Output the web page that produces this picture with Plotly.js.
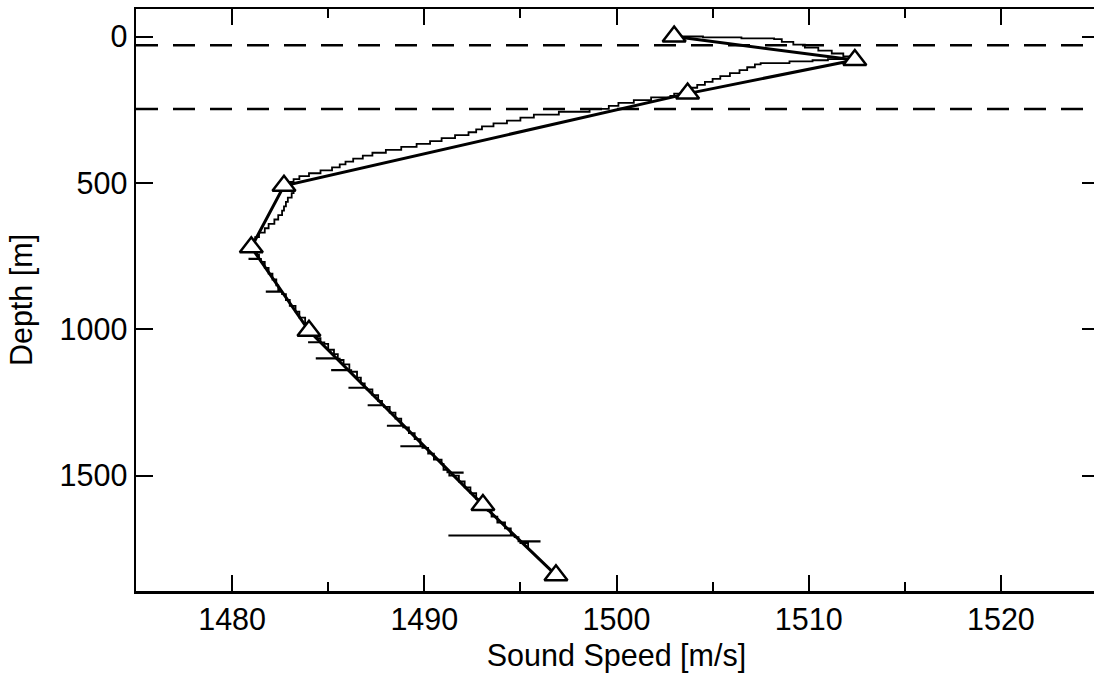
<!DOCTYPE html>
<html>
<head>
<meta charset="utf-8">
<script src="https://cdn.plot.ly/plotly-3.0.1.min.js"></script>
<style>
  html, body { margin: 0; padding: 0; overflow: hidden; background: #fff; }
  #wrap { width: 1094px; height: 673px; overflow: hidden; position: relative; }
  #chart { width: 1200px; height: 673px; position: absolute; left: 0; top: 0; }
</style>
</head>
<body>
<div id="wrap"><div id="chart"></div></div>
<script>
// Measured (stair-step) sound-speed profile: depth [m] and speed [m/s]
const profileDepth = [
  0, 3, 6, 9, 18, 28, 38, 48, 58, 68, 77,
  81, 85, 91, 95, 105, 115, 125, 135, 145, 155, 165, 175, 185, 195, 203,
  208, 217, 227, 237, 247, 257, 267, 277, 287, 297, 307, 317, 327, 337, 347,
  357, 367, 377, 387, 397, 407, 417, 427, 437, 447, 457, 467, 477, 487, 497,
  507, 520, 535, 550, 565, 580, 595, 610, 625, 640, 655, 670, 685, 700, 715, 730,
  745, 759, 760, 770, 790, 810, 830, 850, 865, 871, 872, 880, 900, 920, 940, 960, 980, 1000,
  1015, 1030, 1044, 1045, 1050, 1070, 1085, 1099, 1100, 1105, 1120, 1139, 1140, 1145, 1165, 1185,
  1199, 1200, 1205, 1225, 1245, 1259, 1260, 1265, 1285, 1305, 1329, 1330, 1335, 1355, 1375, 1399, 1400,
  1405, 1425, 1445, 1460, 1480, 1489, 1490, 1500, 1520, 1540, 1560, 1580, 1600, 1620,
  1640, 1660, 1680, 1700, 1704, 1705, 1710, 1724, 1725, 1730, 1750
];
const profileSpeed = [
  1503.0, 1504.5, 1506.5, 1508.2, 1508.6, 1509.2, 1509.8, 1510.5, 1511.2, 1511.8, 1512.3,
  1511.0, 1510.2, 1509.0, 1507.5, 1507.2, 1506.8, 1506.4, 1505.9, 1505.4, 1505.0, 1504.6, 1504.2, 1503.8, 1503.4, 1503.0,
  1502.8, 1501.8, 1500.9, 1500.1, 1499.6, 1498.6, 1497.0, 1495.7, 1495.0, 1494.3, 1493.6, 1493.0, 1492.7, 1492.3, 1491.6,
  1490.9, 1490.3, 1489.6, 1488.8, 1488.0, 1487.3, 1486.8, 1486.3, 1485.9, 1485.6, 1485.2, 1484.6, 1484.0, 1483.5, 1483.2,
  1483.0, 1483.1, 1483.2, 1483.1, 1482.9, 1482.8, 1482.7, 1482.6, 1482.4, 1482.2, 1481.9, 1481.7, 1481.4, 1481.2, 1481.1, 1481.2,
  1481.3, 1481.4, 1480.9, 1481.5, 1481.7, 1481.9, 1482.1, 1482.3, 1482.4, 1482.5, 1481.8, 1482.6, 1482.8, 1483.0, 1483.3, 1483.5, 1483.8, 1484.0,
  1484.2, 1484.4, 1484.6, 1484.0, 1484.8, 1485.0, 1485.3, 1485.5, 1484.4, 1485.6, 1485.8, 1486.1, 1485.2, 1486.2, 1486.5, 1486.7,
  1486.9, 1486.1, 1487.0, 1487.3, 1487.6, 1487.8, 1487.1, 1487.9, 1488.2, 1488.5, 1488.8, 1488.1, 1488.9, 1489.2, 1489.5, 1489.8, 1488.8,
  1489.9, 1490.2, 1490.5, 1490.9, 1491.0, 1491.2, 1492.0, 1491.3, 1491.8, 1492.1, 1492.4, 1492.7, 1493.0, 1493.3,
  1493.5, 1493.8, 1494.2, 1494.5, 1494.6, 1491.3, 1494.7, 1494.9, 1496.0, 1495.0, 1495.4
];

// Model profile nodes (triangles)
const nodeDepth = [0, 80, 195, 510, 720, 1005, 1600, 1840];
const nodeSpeed = [1503.0, 1512.4, 1503.7, 1482.7, 1481.0, 1484.0, 1493.05, 1496.85];

// Horizontal dashed reference depths
const dashDepths = [30, 248];

// Axes
const xRange = [1475, 1525];
const yRange = [1894, -94];
const xTicks = [1480, 1490, 1500, 1510, 1520];
const yTicks = [0, 500, 1000, 1500];

const font = {family: 'Liberation Sans, Arial, Helvetica, sans-serif', size: 30.5, color: '#000'};

const traces = [];
dashDepths.forEach(d => {
  traces.push({
    x: xRange, y: [d, d], mode: 'lines', type: 'scatter', yaxis: 'y2',
    line: {color: '#000', width: 2.5, dash: '22px,15px'},
    hoverinfo: 'skip', showlegend: false
  });
});
traces.push({
  x: profileSpeed, y: profileDepth, mode: 'lines', type: 'scatter',
  line: {color: '#000', width: 1.8, shape: 'hv'}, showlegend: false
});
traces.push({
  x: nodeSpeed, y: nodeDepth, mode: 'lines+markers', type: 'scatter',
  line: {color: '#000', width: 3},
  marker: {symbol: 'triangle-up', size: 20, color: '#fff', line: {color: '#000', width: 2.5}},
  showlegend: false
});

const layout = {
  width: 1200, height: 673,
  margin: {l: 136, r: 102.5, t: 9, b: 82},
  paper_bgcolor: '#fff', plot_bgcolor: '#fff',
  showlegend: false,
  xaxis: {
    range: xRange, tickvals: xTicks, ticktext: xTicks.map(String),
    showgrid: false, zeroline: false,
    showline: true, linecolor: '#000', linewidth: 2.5, mirror: 'ticks',
    ticks: 'inside', ticklen: 16, tickwidth: 2, tickcolor: '#000',
    minor: {dtick: 5, tick0: 1475, ticks: 'inside', ticklen: 9, tickwidth: 2, tickcolor: '#000', showgrid: false},
    tickfont: font,
    title: {text: 'Sound Speed [m/s]', font: font}
  },
  yaxis: {
    range: yRange, tickvals: yTicks, ticktext: yTicks.map(String),
    showgrid: false, zeroline: false,
    showline: true, linecolor: '#000', linewidth: 2.5, mirror: false,
    ticks: 'inside', ticklen: 17, tickwidth: 2, tickcolor: '#000',
    tickfont: font,
    automargin: true,
    title: {text: 'Depth [m]', font: font, standoff: 18}
  },
  yaxis2: {
    overlaying: 'y', side: 'right', range: yRange, tickvals: yTicks,
    showgrid: false, zeroline: false, showline: false, showticklabels: false,
    ticks: 'inside', ticklen: 15, tickwidth: 2, tickcolor: '#000'
  }
};

Plotly.newPlot('chart', traces, layout, {staticPlot: true, displayModeBar: false});
</script>
</body>
</html>
